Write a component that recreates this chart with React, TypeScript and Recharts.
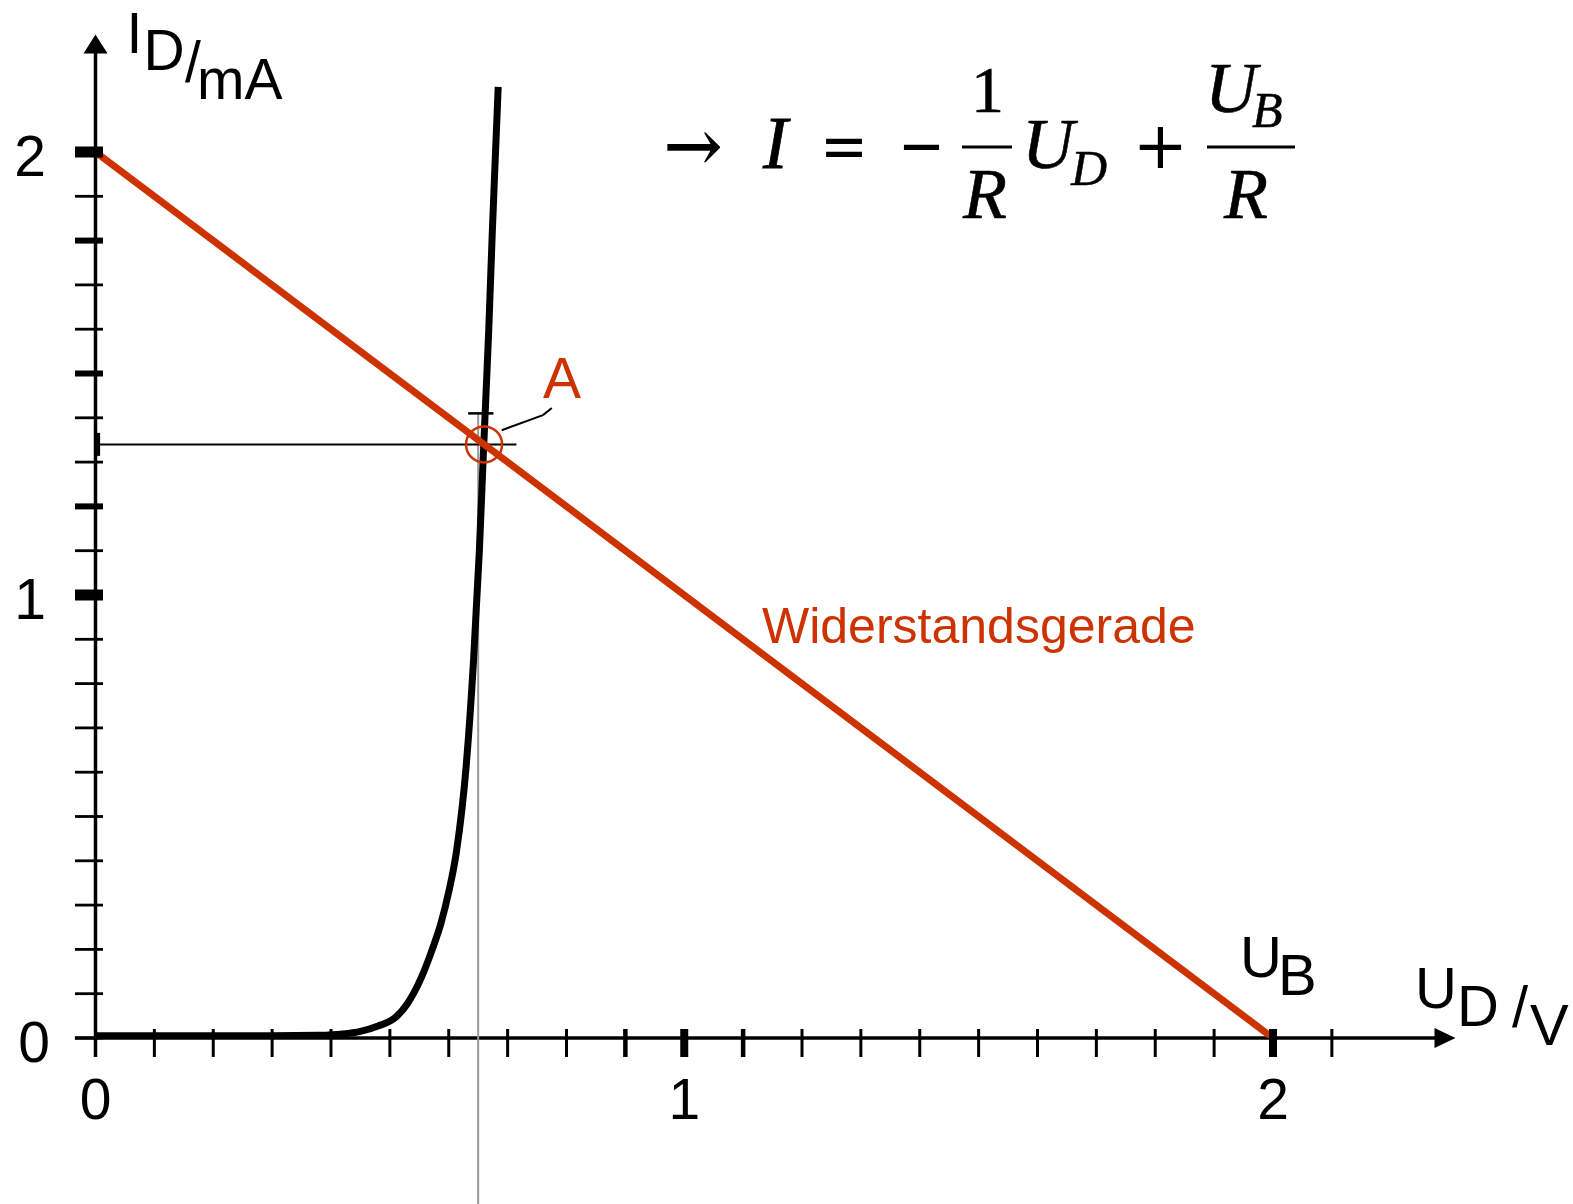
import React from 'react';
import {
  ComposedChart,
  Line,
  XAxis,
  YAxis,
  ReferenceLine,
  ReferenceDot,
  Customized,
} from 'recharts';

const RED = '#CC3300';
const SANS = '"Liberation Sans", Arial, sans-serif';
const SERIF = '"Liberation Serif", "Times New Roman", serif';
const OPS = '"DejaVu Serif", serif';

// Diode characteristic I_D(U_D), U in V, I in mA
const diodeU = [0, 0.1, 0.2, 0.3, 0.38, 0.42, 0.45, 0.48, 0.51, 0.53, 0.553, 0.572, 0.587, 0.6, 0.613, 0.63, 0.642, 0.652, 0.659, 0.668, 0.674, 0.681, 0.684];
const diodeI = [0.005, 0.005, 0.005, 0.005, 0.006, 0.009, 0.015, 0.027, 0.047, 0.078, 0.135, 0.2, 0.26, 0.33, 0.42, 0.62, 0.85, 1.1, 1.325, 1.6, 1.82, 2.05, 2.147];

// Load line (Widerstandsgerade): from (0, U_B/R) to (U_B, 0)
const loadU = [0, 2];
const loadI = [2, 0];

// Operating point A and its projections onto the axes
const opU = 0.66;
const opI = 1.34;
const projU = 0.65;

// Axis ticks
const xTicks = [0, 0.1, 0.2, 0.3, 0.4, 0.5, 0.6, 0.7, 0.8, 0.9, 1, 1.1, 1.2, 1.3, 1.4, 1.5, 1.6, 1.7, 1.8, 1.9, 2, 2.1];
const yTicks = [0, 0.1, 0.2, 0.3, 0.4, 0.5, 0.6, 0.7, 0.8, 0.9, 1, 1.1, 1.2, 1.3, 1.4, 1.5, 1.6, 1.7, 1.8, 1.9, 2];
const xTickLabels = ['0', '1', '2'];
const yTickLabels = ['0', '1', '2'];

const diodeData = diodeU.map((u, k) => ({ u, i: diodeI[k] }));
const loadData = loadU.map((u, k) => ({ u, i: loadI[k] }));

const near = (a: number, b: number) => Math.abs(a - b) < 1e-6;

const XTick = (props: any) => {
  const { x, y, payload } = props;
  const v = payload.value as number;
  let w = 3;
  if (near(v, 1) || near(v, 2)) w = 8;
  else if (near(v, 0.9) || near(v, 1.1)) w = 4.5;
  const label = xTickLabels.find((t) => near(Number(t), v));
  return (
    <g>
      <line x1={x} x2={x} y1={y - 9} y2={y + 19} stroke="#000" strokeWidth={w} />
      {label !== undefined && (
        <text x={x} y={y + 81} textAnchor="middle" fontFamily={SANS} fontSize={57} fill="#000">
          {label}
        </text>
      )}
    </g>
  );
};

const YTick = (props: any) => {
  const { x, y, payload } = props;
  const v = payload.value as number;
  let w = 2.8;
  if (near(v, 1) || near(v, 2)) w = 11;
  else if (near(v, 1.2) || near(v, 1.5) || near(v, 1.8)) w = 6;
  const label = yTickLabels.find((t) => near(Number(t), v));
  const shift = near(v, 0) ? 4 : 0;
  return (
    <g>
      <line x1={x - 20.5} x2={x + 7.5} y1={y} y2={y} stroke="#000" strokeWidth={w} />
      {label !== undefined && (
        <text x={x - 49.5 + shift} y={y + 24} textAnchor="end" fontFamily={SANS} fontSize={57} fill="#000">
          {label}
        </text>
      )}
    </g>
  );
};

const XArrow = (p: any) => (
  <polygon points={`${p.cx},${p.cy} ${p.cx - 21},${p.cy - 10} ${p.cx - 21},${p.cy + 10}`} fill="#000" />
);
const YArrow = (p: any) => (
  <polygon points={`${p.cx},${p.cy} ${p.cx - 12},${p.cy + 19} ${p.cx + 12},${p.cy + 19}`} fill="#000" />
);

const LabelA = (p: any) => (
  <text x={p.cx + 78} y={p.cy - 46} textAnchor="middle" fontFamily={SANS} fontSize={57} fill={RED}>
    A
  </text>
);

const LabelUB = (p: any) => (
  <text fontFamily={SANS} fontSize={58} fill="#000">
    <tspan x={p.cx - 33} y={p.cy - 61}>U</tspan>
    <tspan x={p.cx + 5} y={p.cy - 43}>B</tspan>
  </text>
);

const Annotations = () => (
  <g>
    {/* y-axis title */}
    <text fontFamily={SANS} fontSize={57} fill="#000">
      <tspan x={126.6} y={53}>I</tspan>
      <tspan x={143.6} y={70}>D</tspan>
      <tspan x={185} y={82}>/</tspan>
      <tspan x={197} y={99}>mA</tspan>
    </text>
    {/* x-axis title */}
    <text fontFamily={SANS} fontSize={58} fill="#000">
      <tspan x={1415} y={1008}>U</tspan>
      <tspan x={1457} y={1026}>D</tspan>
      <tspan x={1512} y={1027}>/</tspan>
      <tspan x={1530} y={1045}>V</tspan>
    </text>
    {/* load line caption */}
    <text x={762} y={643} fontFamily={SANS} fontSize={50} fill={RED}>
      Widerstandsgerade
    </text>
    {/* formula of the load line */}
    <g fill="#000">
      <text x={664} y={170} fontFamily={OPS} fontSize={70} textLength={58} lengthAdjust="spacingAndGlyphs" stroke="#000" strokeWidth={1.2}>→</text>
      <text x={763} y={168} fontFamily={SERIF} fontStyle="italic" fontSize={74} stroke="#000" strokeWidth={0.8}>I</text>
      <text x={844} y={168} textAnchor="middle" fontFamily={OPS} fontSize={66} textLength={48} lengthAdjust="spacingAndGlyphs">=</text>
      <text x={898} y={168} fontFamily={OPS} fontSize={66} textLength={47} lengthAdjust="spacingAndGlyphs">−</text>
      <line x1={962} x2={1012} y1={147} y2={147} stroke="#000" strokeWidth={3} />
      <text x={987.5} y={112} textAnchor="middle" fontFamily={SERIF} fontSize={66} stroke="#000" strokeWidth={0.6}>1</text>
      <text x={985} y={218} textAnchor="middle" fontFamily={SERIF} fontStyle="italic" fontSize={72} stroke="#000" strokeWidth={0.6}>R</text>
      <text x={1022} y={168} fontFamily={SERIF} fontStyle="italic" fontSize={72} stroke="#000" strokeWidth={0.6}>U</text>
      <text x={1071} y={185} fontFamily={SERIF} fontStyle="italic" fontSize={50} stroke="#000" strokeWidth={0.5}>D</text>
      <text x={1160.5} y={168} textAnchor="middle" fontFamily={OPS} fontSize={66}>+</text>
      <line x1={1207} x2={1295} y1={147} y2={147} stroke="#000" strokeWidth={3} />
      <text x={1205} y={112} fontFamily={SERIF} fontStyle="italic" fontSize={72} stroke="#000" strokeWidth={0.6}>U</text>
      <text x={1252} y={127} fontFamily={SERIF} fontStyle="italic" fontSize={50} stroke="#000" strokeWidth={0.5}>B</text>
      <text x={1246} y={218} textAnchor="middle" fontFamily={SERIF} fontStyle="italic" fontSize={72} stroke="#000" strokeWidth={0.6}>R</text>
    </g>
  </g>
);

export default function App() {
  return (
    <div style={{ position: 'absolute', left: 0, top: 0, width: 1573, height: 1204, background: '#fff' }}>
      <ComposedChart
        width={1573}
        height={1204}
        margin={{ top: 34.6, right: 117.5, bottom: 66, left: 0 }}
      >
        <XAxis
          type="number"
          dataKey="u"
          domain={[0, 2.31]}
          ticks={xTicks}
          interval={0}
          allowDataOverflow
          axisLine={false}
          tickLine={false}
          tickSize={0}
          tickMargin={0}
          height={100}
          tick={<XTick />}
        />
        <YAxis
          type="number"
          dataKey="i"
          domain={[0, 2.265]}
          ticks={yTicks}
          interval={0}
          allowDataOverflow
          axisLine={false}
          tickLine={false}
          tickSize={0}
          tickMargin={0}
          width={95.5}
          tick={<YTick />}
        />

        {/* axes with arrows */}
        <ReferenceLine segment={[{ x: -0.035, y: 0 }, { x: 2.29, y: 0 }]} stroke="#000" strokeWidth={3.5} ifOverflow="visible" />
        <ReferenceDot x={2.31} y={0} r={0} ifOverflow="visible" shape={XArrow} />
        <ReferenceLine segment={[{ x: 0, y: -0.043 }, { x: 0, y: 2.24 }]} stroke="#000" strokeWidth={3.5} ifOverflow="visible" />
        <ReferenceDot x={0} y={2.265} r={0} ifOverflow="visible" shape={YArrow} />

        {/* projection of the operating point */}
        <ReferenceLine segment={[{ x: projU, y: -0.38 }, { x: projU, y: 1.41 }]} stroke="#9a9a9a" strokeWidth={2} ifOverflow="visible" />
        <ReferenceLine segment={[{ x: 0.633, y: 1.41 }, { x: 0.676, y: 1.41 }]} stroke="#000" strokeWidth={2.5} ifOverflow="visible" />
        <ReferenceLine segment={[{ x: 0, y: opI }, { x: 0.715, y: opI }]} stroke="#000" strokeWidth={2} ifOverflow="visible" />
        <ReferenceLine segment={[{ x: 0.004, y: opI - 0.026 }, { x: 0.004, y: opI + 0.026 }]} stroke="#000" strokeWidth={4.5} ifOverflow="visible" />

        <Line
          data={diodeData}
          dataKey="i"
          type="monotone"
          stroke="#000"
          strokeWidth={7}
          dot={false}
          activeDot={false}
          isAnimationActive={false}
        />
        <Line
          data={loadData}
          dataKey="i"
          type="linear"
          stroke={RED}
          strokeWidth={7}
          dot={false}
          activeDot={false}
          isAnimationActive={false}
        />

        {/* operating point A */}
        <ReferenceLine segment={[{ x: 0.69, y: 1.372 }, { x: 0.76, y: 1.406 }]} stroke="#000" strokeWidth={2} ifOverflow="visible" />
        <ReferenceLine segment={[{ x: 0.76, y: 1.406 }, { x: 0.775, y: 1.422 }]} stroke="#000" strokeWidth={2} ifOverflow="visible" />
        <ReferenceDot x={opU} y={opI} r={18} fill="none" stroke={RED} strokeWidth={2.5} ifOverflow="visible" />
        <ReferenceDot x={opU} y={opI} r={0} ifOverflow="visible" shape={LabelA} />
        <ReferenceDot x={loadU[1]} y={loadI[1]} r={0} ifOverflow="visible" shape={LabelUB} />

        <Customized component={<Annotations />} />
      </ComposedChart>
    </div>
  );
}
